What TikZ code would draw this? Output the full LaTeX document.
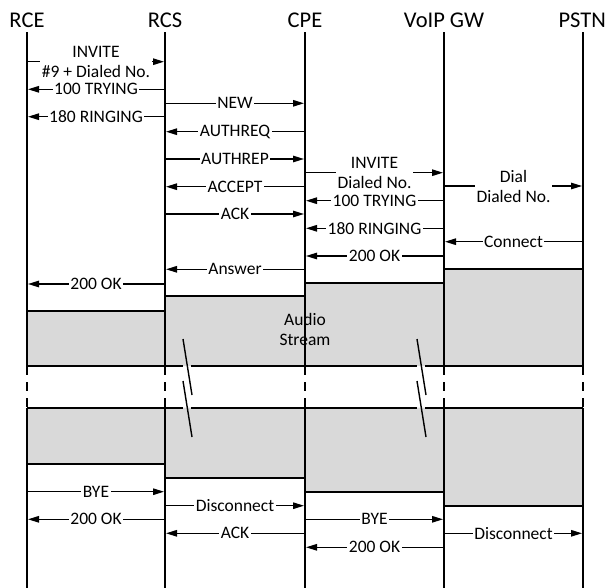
\documentclass[tikz,border=0pt]{standalone}
\usepackage{fontspec}
\setmainfont{Carlito}
\usetikzlibrary{arrows.meta}

\begin{document}
\begin{tikzpicture}[
	x=1pt, y=-1pt,
	lifehead/.style={ anchor=base, inner sep=0pt, font=\fontsize{22.5}{27}\selectfont },
	lifeline/.style={ line width=2.2pt },
	gapline/.style={ line width=2.2pt, dash pattern=on 9pt off 7pt },
	boxedge/.style={ line width=2pt },
	breakline/.style={ line width=1.4pt },
	msg/.style={ line width=1.3pt, -{Triangle[length=11pt,width=6.5pt]}, shorten >=1pt },
	lbl/.style={ fill=white, inner xsep=1.5pt, inner ysep=1pt, align=center, font=\fontsize{17.5}{20}\selectfont }
]

\useasboundingbox (0,0) rectangle (607,588);
\clip (0,0) rectangle (607,588);
\fill[white] (0,0) rectangle (607,588);

\coordinate (rce) at (27,32.3);
\coordinate (rcs) at (165,32.3);
\coordinate (cpe) at (305,32.3);
\coordinate (gw) at (444,32.3);
\coordinate (pstn) at (583,32.3);

\fill[black!15!white]
  (27,311) -- (165,311) -- (165,296) -- (305,296) -- (305,282.7) -- (444,282.7)
  -- (444,269.3) -- (583,269.3) -- (583,366) -- (27,366) -- cycle;
\fill[black!15!white]
  (27,407.5) -- (583,407.5) -- (583,505.5) -- (444,505.5) -- (444,492) -- (305,492)
  -- (305,478) -- (165,478) -- (165,464) -- (27,464) -- cycle;
\draw[boxedge]
  (27,311) -- (165,311) -- (165,296) -- (305,296) -- (305,282.7) -- (444,282.7)
  -- (444,269.3) -- (583,269.3);
\draw[boxedge]
  (27,464) -- (165,464) -- (165,478) -- (305,478) -- (305,492) -- (444,492)
  -- (444,505.5) -- (583,505.5);
\draw[boxedge]
  (27,366) -- (183,366) (191,366) -- (417,366) (425,366) -- (583,366)
  (27,407.5) -- (183,407.5) (191,407.5) -- (417,407.5) (425,407.5) -- (583,407.5);
\draw[breakline]
  (183,339) -- (192,395) (183,381) -- (192,437)
  (417,339) -- (426,395) (417,381) -- (426,437);

\draw[lifeline]
  (rce) -- (rce |- 0,366) (rcs) -- (rcs |- 0,366) (cpe) -- (cpe |- 0,366)
  (gw) -- (gw |- 0,366) (pstn) -- (pstn |- 0,366);
\draw[gapline]
  (rce |- 0,366) -- (rce |- 0,407.5) (rcs |- 0,366) -- (rcs |- 0,407.5)
  (cpe |- 0,366) -- (cpe |- 0,407.5) (gw |- 0,366) -- (gw |- 0,407.5)
  (pstn |- 0,366) -- (pstn |- 0,407.5);
\draw[lifeline]
  (rce |- 0,407.5) -- (rce |- 0,588) (rcs |- 0,407.5) -- (rcs |- 0,588)
  (cpe |- 0,407.5) -- (cpe |- 0,588) (gw |- 0,407.5) -- (gw |- 0,588)
  (pstn |- 0,407.5) -- (pstn |- 0,588);

\node[lifehead] (rcehead) at (27,27.3) {RCE};
\node[lifehead] (rcshead) at (165,27.3) {RCS};
\node[lifehead] (cpehead) at (305,27.3) {CPE};
\node[lifehead] (gwhead) at (444,27.3) {VoIP GW};
\node[lifehead, anchor=base east] (pstnhead) at (606,27.3) {PSTN};

\draw[msg] (rce |- 0,61.7) -- node[lbl] (invite1) {INVITE\\\#9 + Dialed No.} (rcs |- 0,61.7);
\draw[msg] (rcs |- 0,89.3) -- node[lbl] (trying1) {100 TRYING} (rce |- 0,89.3);
\draw[msg] (rcs |- 0,116.7) -- node[lbl] (ringing1) {180 RINGING} (rce |- 0,116.7);
\draw[msg] (rcs |- 0,103.3) -- node[lbl] (new) {NEW} (cpe |- 0,103.3);
\draw[msg] (cpe |- 0,131.7) -- node[lbl] (authreq) {AUTHREQ} (rcs |- 0,131.7);
\draw[msg] (rcs |- 0,159) -- node[lbl] (authrep) {AUTHREP} (cpe |- 0,159);
\draw[msg] (cpe |- 0,186.7) -- node[lbl] (accept) {ACCEPT} (rcs |- 0,186.7);
\draw[msg] (rcs |- 0,214) -- node[lbl] (ack1) {ACK} (cpe |- 0,214);
\draw[msg] (cpe |- 0,269.3) -- node[lbl] (answer) {Answer} (rcs |- 0,269.3);
\draw[msg] (rcs |- 0,284) -- node[lbl] (ok1) {200 OK} (rce |- 0,284);
\draw[msg] (cpe |- 0,172.7) -- node[lbl] (invite2) {INVITE\\Dialed No.} (gw |- 0,172.7);
\draw[msg] (gw |- 0,200.7) -- node[lbl] (trying2) {100 TRYING} (cpe |- 0,200.7);
\draw[msg] (gw |- 0,228.3) -- node[lbl] (ringing2) {180 RINGING} (cpe |- 0,228.3);
\draw[msg] (gw |- 0,256) -- node[lbl] (ok2) {200 OK} (cpe |- 0,256);
\draw[msg] (gw |- 0,186) -- node[lbl] (dial) {Dial\\Dialed No.} (pstn |- 0,186);
\draw[msg] (pstn |- 0,241.7) -- node[lbl] (connect) {Connect} (gw |- 0,241.7);

\node[lbl, fill=none] (audio) at (305,329) {Audio\\Stream};

\draw[msg] (rce |- 0,491.7) -- node[lbl] (bye1) {BYE} (rcs |- 0,491.7);
\draw[msg] (rcs |- 0,519.3) -- node[lbl] (ok3) {200 OK} (rce |- 0,519.3);
\draw[msg] (rcs |- 0,505.7) -- node[lbl] (disc1) {Disconnect} (cpe |- 0,505.7);
\draw[msg] (cpe |- 0,533.3) -- node[lbl] (ack2) {ACK} (rcs |- 0,533.3);
\draw[msg] (cpe |- 0,519.3) -- node[lbl] (bye2) {BYE} (gw |- 0,519.3);
\draw[msg] (gw |- 0,547.3) -- node[lbl] (ok4) {200 OK} (cpe |- 0,547.3);
\draw[msg] (gw |- 0,533.3) -- node[lbl] (disc2) {Disconnect} (pstn |- 0,533.3);

\end{tikzpicture}
\end{document}
